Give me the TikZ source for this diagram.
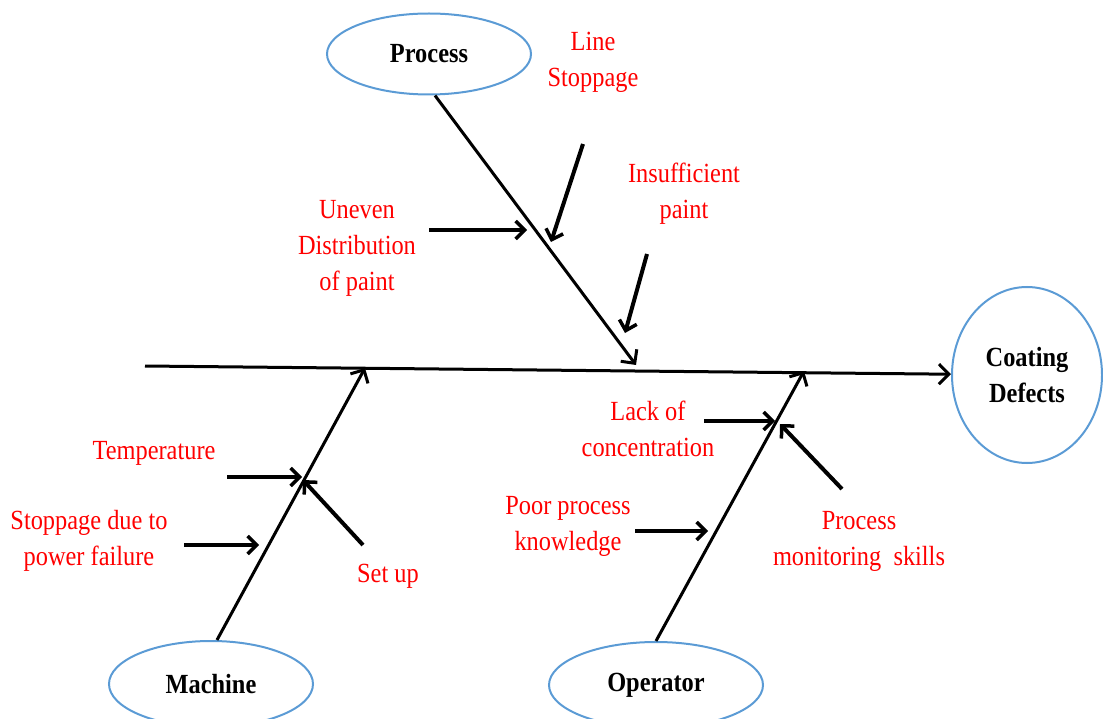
\documentclass[tikz,border=0pt]{standalone}
\usepackage{fontspec}
\setmainfont[FakeStretch=0.88]{Liberation Serif}
\usetikzlibrary{arrows.meta,shapes.geometric}
\definecolor{causered}{RGB}{255,0,0}
\definecolor{bubbleblue}{RGB}{91,155,213}
\tikzset{
  bubble/.style={ellipse,draw=bubbleblue,line width=2pt,inner sep=0pt,font=\fontsize{27.7}{36}\selectfont\bfseries},
  cause/.style={text=causered,align=center},
  bone/.style={line width=3pt,-{Straight Barb[length=10pt,width=20pt]}},
  twig/.style={line width=4pt,-{Straight Barb[length=9pt,width=18pt,line width=3.5pt]}}
}
\begin{document}
\begin{tikzpicture}[x=1pt,y=-1pt,font=\fontsize{27.7}{36}\selectfont]
		\useasboundingbox (0,0) rectangle (1103,719);
		\clip (0,0) rectangle (1103,719);

		\node[bubble,minimum width=204,minimum height=81] (proc) at (429,54) {Process};
		\node[bubble,minimum width=150,minimum height=176,align=center] (defect) at (1027,375) {Coating\\Defects};
		\node[bubble,minimum width=204,minimum height=86] (mach) at (211,684) {Machine};
		\node[bubble,minimum width=214,minimum height=86] (oper) at (656,685) {Operator};

		\coordinate (tail) at (145,366);
		\coordinate (jproc) at (636,365);
		\coordinate (jmach) at (365,368);
		\coordinate (joper) at (804,371);

		\coordinate (su) at (429,230); \coordinate (eu) at (527,230);
		\coordinate (sl) at (583,144); \coordinate (el) at (551,242);
		\coordinate (si) at (647,254); \coordinate (ei) at (625,333);
		\coordinate (st) at (227,477); \coordinate (et) at (302,477);
		\coordinate (ss) at (184,545); \coordinate (es) at (259,545);
		\coordinate (sset) at (363,545); \coordinate (eset) at (303,480);
		\coordinate (sc) at (704,421); \coordinate (ec) at (775,421);
		\coordinate (sk) at (635,531); \coordinate (ek) at (708,531);
		\coordinate (sm) at (842,489); \coordinate (em) at (780,424);

		\draw[bone] (tail) -- (defect);
		\draw[bone] ([xshift=6]proc.south) -- (jproc);
		\draw[bone] ([xshift=6]mach.north) -- (jmach);
		\draw[bone] (oper.north) -- (joper);

		\draw[twig] (su) -- (eu);
		\draw[twig] (sl) -- (el);
		\draw[twig] (si) -- (ei);
		\draw[twig] (st) -- (et);
		\draw[twig] (ss) -- (es);
		\draw[twig] (sset) -- (eset);
		\draw[twig] (sc) -- (ec);
		\draw[twig] (sk) -- (ek);
		\draw[twig] (sm) -- (em);

		\node[cause] (lline) at (593,62) {Line\\Stoppage};
		\node[cause] (linsuf) at (684,194) {Insufficient\\paint};
		\node[cause] (luneven) at (357,248) {Uneven\\Distribution\\of paint};
		\node[cause] (ltemp) at (154,453) {Temperature};
		\node[cause] (lpower) at (89,541) {Stoppage due to\\power failure};
		\node[cause] (lsetup) at (388,576) {Set up};
		\node[cause] (lconc) at (648,429) {Lack of\\concentration};
		\node[cause] (lknow) at (568,526) {Poor process\\knowledge};
		\node[cause] (lmon) at (859,541) {Process\\monitoring\ \ skills};
	\end{tikzpicture}
\end{document}
